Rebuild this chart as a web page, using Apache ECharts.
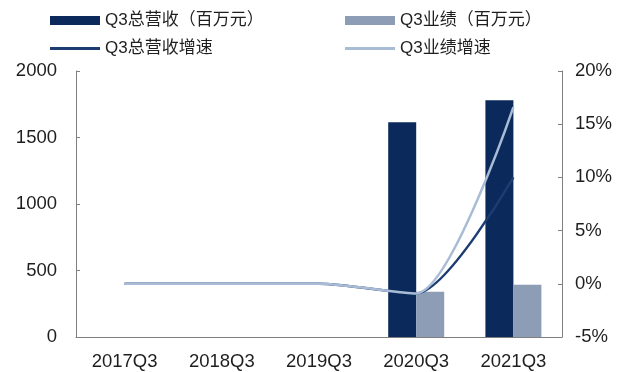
<!DOCTYPE html>
<html>
<head>
<meta charset="utf-8">
<script src="https://cdn.jsdelivr.net/npm/echarts@6/dist/echarts.min.js"></script>
<style>
  html, body { margin: 0; padding: 0; background: #fff; }
  #chart { width: 619px; height: 372px; }
</style>
</head>
<body>
<div id="chart"></div>
<script>
// Quarterly figures, 2017Q3 – 2021Q3
const categories = ['2017Q3', '2018Q3', '2019Q3', '2020Q3', '2021Q3'];
const revenue = [null, null, null, 1615, 1781];     // Q3总营收（百万元）
const profit = [null, null, null, 340, 392];        // Q3业绩（百万元）
const revenueGrowth = [0, 0, 0, -0.9, 10.0];        // Q3总营收增速 (%)
const profitGrowth = [0, 0, 0, -0.9, 16.6];         // Q3业绩增速 (%)
const leftTicks = { min: 0, max: 2000, interval: 500 };
const rightTicks = { min: -5, max: 20, interval: 5 };

const FONT = '"Liberation Sans", "Noto Sans CJK SC", sans-serif';
const DARK = '#0b2a5b';
const LIGHT = '#8d9db5';
const DARK_LINE = '#1d3c72';
const LIGHT_LINE = '#a9bcd6';
const AXIS = '#7f7f7f';
const TEXT = '#1e1e1e';

const chart = echarts.init(document.getElementById('chart'));
const legendText = { fontSize: 17, color: TEXT, fontFamily: '"Liberation Sans", "Noto Sans CJK SC", sans-serif' };

// one legend block per entry so each can be placed on its own
function legendItem(name, left, top, h) {
  return {
    left: left, top: top, itemWidth: 50, itemHeight: h, padding: 0,
    textStyle: legendText,
    data: [{ name: name, icon: 'rect' }]
  };
}

chart.setOption({
  animation: false,
  legend: [
    legendItem('Q3总营收（百万元）', 50, 12, 9),
    legendItem('Q3业绩（百万元）', 345, 12, 9),
    legendItem('Q3总营收增速', 50, 40, 3),
    legendItem('Q3业绩增速', 345, 40, 3)
  ],
  grid: { left: 76, right: 57, top: 71, bottom: 35, containLabel: false },
  xAxis: {
    type: 'category',
    data: categories,
    axisLine: { lineStyle: { color: AXIS, width: 1 } },
    axisTick: { inside: true, length: 4, lineStyle: { color: AXIS } },
    axisLabel: { color: TEXT, fontSize: 18.5, fontFamily: FONT, margin: 16 }
  },
  yAxis: [
    {
      type: 'value',
      min: leftTicks.min, max: leftTicks.max, interval: leftTicks.interval,
      axisLine: { show: true, lineStyle: { color: AXIS } },
      axisTick: { show: true, inside: true, length: 4, lineStyle: { color: AXIS } },
      splitLine: { show: false },
      axisLabel: { color: TEXT, fontSize: 18.5, fontFamily: FONT, margin: 19, formatter: v => String(v) }
    },
    {
      type: 'value',
      min: rightTicks.min, max: rightTicks.max, interval: rightTicks.interval,
      axisLine: { show: true, lineStyle: { color: AXIS } },
      axisTick: { show: true, inside: true, length: 4, lineStyle: { color: AXIS } },
      splitLine: { show: false },
      axisLabel: { color: TEXT, fontSize: 18.5, fontFamily: FONT, margin: 13, formatter: '{value}%' }
    }
  ],
  series: [
    {
      name: 'Q3总营收（百万元）', type: 'bar', data: revenue,
      barWidth: 28, barGap: '0%', itemStyle: { color: DARK }
    },
    {
      name: 'Q3业绩（百万元）', type: 'bar', data: profit,
      barWidth: 28, itemStyle: { color: LIGHT }
    },
    {
      name: 'Q3总营收增速', type: 'line', yAxisIndex: 1, data: revenueGrowth,
      smooth: 0.25, showSymbol: false, symbol: 'none',
      lineStyle: { color: DARK_LINE, width: 2.5 }, itemStyle: { color: DARK_LINE }
    },
    {
      name: 'Q3业绩增速', type: 'line', yAxisIndex: 1, data: profitGrowth,
      smooth: 0.25, showSymbol: false, symbol: 'none',
      lineStyle: { color: LIGHT_LINE, width: 2.5 }, itemStyle: { color: LIGHT_LINE }
    }
  ]
});
</script>
</body>
</html>
